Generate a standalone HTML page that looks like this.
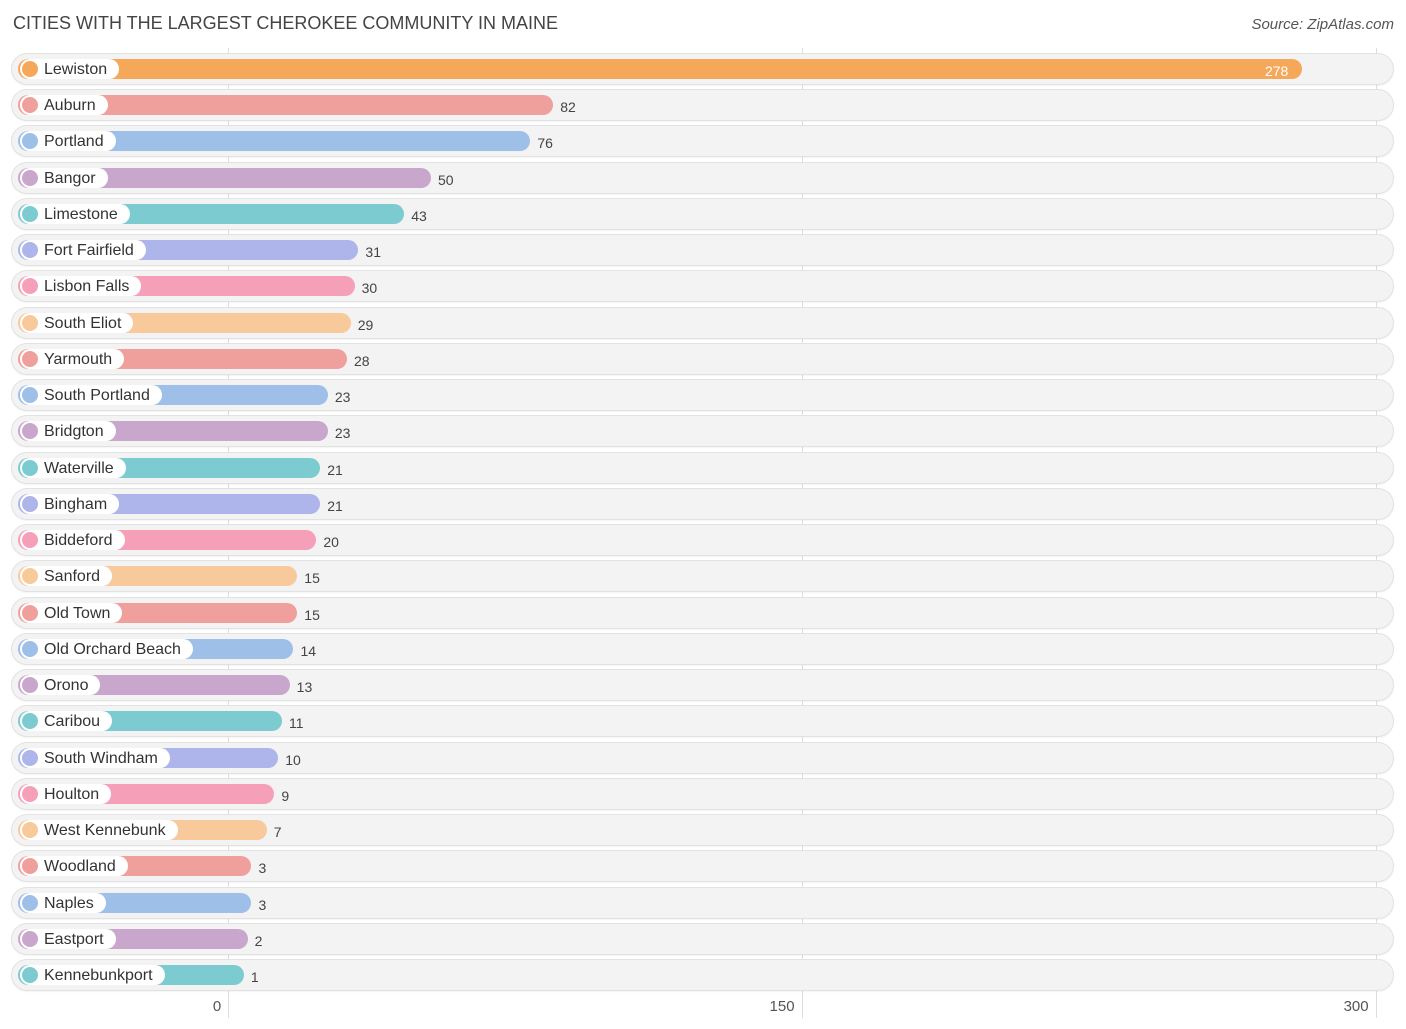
<!DOCTYPE html>
<html><head><meta charset="utf-8"><style>
body{margin:0;background:#fff;font-family:"Liberation Sans",sans-serif;}
#wrap{position:relative;width:1406px;height:1029px;overflow:hidden;}
.title{position:absolute;left:13px;top:13px;font-size:18px;color:#444;}
.src{position:absolute;right:12px;top:16px;font-size:15px;color:#555;font-style:italic;}
.grid{position:absolute;top:48px;height:970px;width:1px;background:#ddd;}
.tick{position:absolute;top:998px;font-size:15px;color:#555;transform:translateX(-50%);}
.row{position:absolute;left:12px;width:1381px;height:30px;border-radius:15px;background:#f3f3f3;box-shadow:0 0 0 1px #e2e2e2,0 1px 2px rgba(0,0,0,.12);}
.bar{position:absolute;left:18px;height:20px;border-radius:10px;}
.lab{position:absolute;left:20px;height:20px;border-radius:10px;background:#fff;font-size:16px;color:#333;line-height:22px;padding:0 12px 0 24px;white-space:nowrap;}
.dot{position:absolute;left:2px;top:2px;width:16px;height:16px;border-radius:8px;}
.val{position:absolute;font-size:14px;color:#444;line-height:20px;}
</style></head><body><div id="wrap">
<div class="title">CITIES WITH THE LARGEST CHEROKEE COMMUNITY IN MAINE</div>
<div class="src">Source: ZipAtlas.com</div>
</div>
<script>
const cities=["Lewiston","Auburn","Portland","Bangor","Limestone","Fort Fairfield","Lisbon Falls","South Eliot","Yarmouth","South Portland","Bridgton","Waterville","Bingham","Biddeford","Sanford","Old Town","Old Orchard Beach","Orono","Caribou","South Windham","Houlton","West Kennebunk","Woodland","Naples","Eastport","Kennebunkport"];
const values=[278,82,76,50,43,31,30,29,28,23,23,21,21,20,15,15,14,13,11,10,9,7,3,3,2,1];
const ticks=[0,150,300];
const palette=["#f0a09c","#9dbfe8","#c9a6cc","#7ccbd0","#adb5ea","#f5a0b8","#f8c99a"];
const W=document.getElementById('wrap');
function xg(v){return 228+v*3.827;}
function xb(v){return 240+v*3.82;}
function yc(i){return 69+i*36.24;}
ticks.forEach(t=>{
 const g=document.createElement('div');g.className='grid';g.style.left=xg(t)+'px';
 
 
 W.appendChild(g);
});
cities.forEach((c,i)=>{
 const col=i===0?"#f6a85a":palette[(i-1)%7];
 const y=yc(i);
 const r=document.createElement('div');r.className='row';r.style.top=(y-15)+'px';
 
 
 W.appendChild(r);
 const b=document.createElement('div');b.className='bar';b.style.top=(y-10)+'px';b.style.width=(xb(values[i])-18)+'px';b.style.background=col;
 
 
 W.appendChild(b);
 const l=document.createElement('div');l.className='lab';l.style.top=(y-10)+'px';l.textContent=c;
 
 
 const d=document.createElement('div');d.className='dot';d.style.background=col;
 
 
 l.appendChild(d);W.appendChild(l);
 const v=document.createElement('div');v.className='val';v.style.top=(y-8)+'px';v.textContent=values[i];
 
 
 if(i===0){v.style.left=(xb(values[i])-37)+'px';v.style.color='#fff';}else v.style.left=(xb(values[i])+7)+'px';
 W.appendChild(v);
});
ticks.forEach(t=>{
 const k=document.createElement('div');k.className='tick';k.textContent=t;
 k.style.left=(t===0?xg(t)-11:xg(t)-20)+'px';
 
 
 W.appendChild(k);
});
</script></body></html>
